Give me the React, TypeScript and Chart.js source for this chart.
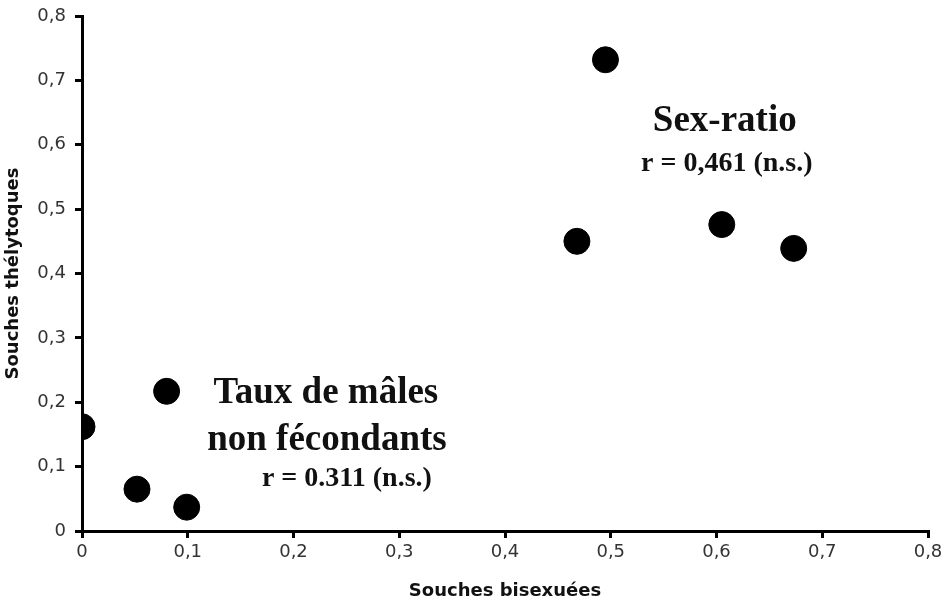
import React, { useEffect, useRef } from "react";
import { Chart, registerables } from "chart.js";

Chart.register(...registerables);

const bisexuees: number[] = [0, 0.052, 0.08, 0.099, 0.468, 0.495, 0.605, 0.673];
const thelytoques: number[] = [0.162, 0.065, 0.217, 0.037, 0.45, 0.732, 0.476, 0.439];
const xTitle = "Souches bisexuées";
const yTitle = "Souches thélytoques";
const annotationTexts: string[] = [
  "Sex-ratio",
  "r = 0,461 (n.s.)",
  "Taux de mâles",
  "non fécondants",
  "r = 0.311 (n.s.)",
];

// placement of annotation texts (data coordinates of the text centre / baseline)
const annotationPlacement = [
  { size: 37, x: 0.6078, y: 0.6217 },
  { size: 28, x: 0.6097, y: 0.5597 },
  { size: 37, x: 0.2306, y: 0.1984 },
  { size: 37, x: 0.2316, y: 0.1256 },
  { size: 28, x: 0.2505, y: 0.0698 },
];

const fmt = (v: number) => (v === 0 ? "0" : v.toFixed(1).replace(".", ","));

const annotationPlugin = {
  id: "annot",
  afterDatasetsDraw(chart: any) {
    const { ctx, scales } = chart;
    ctx.save();
    ctx.fillStyle = "#111";
    ctx.textAlign = "center";
    ctx.textBaseline = "alphabetic";
    annotationTexts.forEach((t, i) => {
      const a = annotationPlacement[i];
      ctx.font = `bold ${a.size}px "Liberation Serif", "Times New Roman", serif`;
      ctx.fillText(t, scales.x.getPixelForValue(a.x), scales.y.getPixelForValue(a.y));
    });
    ctx.restore();
  },
};

export default function App() {
  const ref = useRef<HTMLCanvasElement | null>(null);
  useEffect(() => {
    document.body.style.margin = "0";
    const data = bisexuees.map((x, i) => ({ x, y: thelytoques[i] }));
    const tickFont = { family: "Verdana, 'DejaVu Sans', sans-serif", size: 18 };
    const titleFont = { family: "Verdana, 'DejaVu Sans', sans-serif", size: 18, weight: "bold" as const };
    const chart = new Chart(ref.current!, {
      type: "scatter",
      data: {
        datasets: [
          {
            data,
            backgroundColor: "#000",
            borderColor: "#000",
            pointRadius: 13,
            pointHoverRadius: 13,
          },
        ],
      },
      options: {
        animation: false,
        responsive: false,
        events: [],
        layout: { padding: { top: 16, right: 19, left: 0, bottom: 0 } },
        plugins: { legend: { display: false }, tooltip: { enabled: false } },
        scales: {
          x: {
            type: "linear",
            min: 0,
            max: 0.8,
            ticks: { stepSize: 0.1, color: "#333", font: tickFont, padding: 4, callback: (v: any) => fmt(Number(v)) },
            grid: { display: true, drawOnChartArea: false, drawTicks: true, tickLength: 7, color: "#000", lineWidth: 3 },
            border: { display: true, color: "#000", width: 3 },
            title: { display: true, text: xTitle, color: "#111", font: titleFont, padding: { top: 0, bottom: 0 } },
            afterFit: (s: any) => {
              s.height = 71;
              s.paddingLeft = 0;
              s.paddingRight = 0;
            },
          },
          y: {
            type: "linear",
            min: 0,
            max: 0.8,
            ticks: { stepSize: 0.1, color: "#333", font: tickFont, padding: 9, callback: (v: any) => fmt(Number(v)) },
            grid: { display: true, drawOnChartArea: false, drawTicks: true, tickLength: 7, color: "#000", lineWidth: 3 },
            border: { display: true, color: "#000", width: 3 },
            title: { display: true, text: yTitle, color: "#111", font: titleFont, padding: { top: 3, bottom: 0 } },
            afterFit: (s: any) => {
              s.width = 82;
              s.paddingTop = 0;
              s.paddingBottom = 0;
            },
          },
        },
      },
      plugins: [annotationPlugin],
    });
    return () => chart.destroy();
  }, []);
  return (
    <div style={{ width: 947, height: 602, background: "#fff" }}>
      <canvas ref={ref} width={947} height={602} style={{ display: "block" }} />
    </div>
  );
}
